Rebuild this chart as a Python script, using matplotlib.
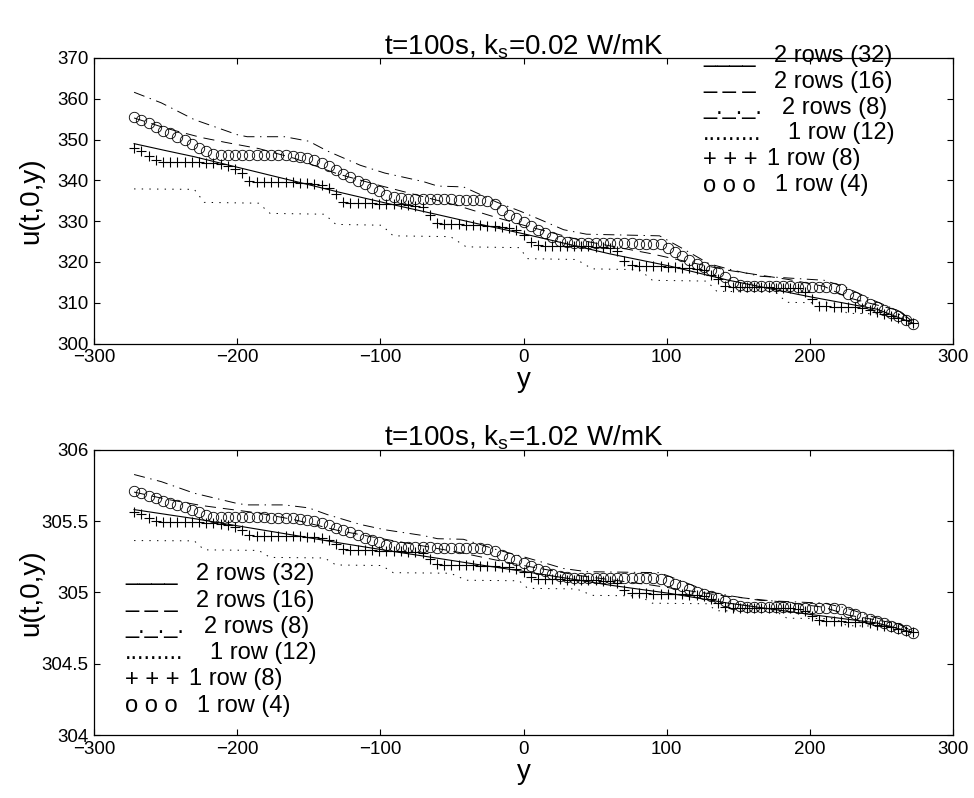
import numpy as np
import matplotlib
matplotlib.use("Agg")
import matplotlib.pyplot as plt
from matplotlib.ticker import FuncFormatter

plt.rcParams.update({
    "font.family": "Liberation Sans",
    "lines.scale_dashes": False,
    "axes.linewidth": 0.9,
})

# -----------------------------------------------------------------------
# DATA
# -----------------------------------------------------------------------
# marker series share one y-grid
y_grid = np.linspace(-272, 272, 109)

circ_top = [
    355.5, 354.8, 354.0, 353.1, 352.2, 351.5, 350.6, 349.8, 348.9, 348.0,
    347.1, 346.5, 346.3, 346.3, 346.2, 346.2, 346.2, 346.2, 346.2, 346.1,
    346.1, 346.1, 346.0, 345.8, 345.4, 344.9, 344.2, 343.5, 342.5, 341.6,
    340.9, 339.9, 339.0, 338.2, 337.4, 336.4, 335.8, 335.6, 335.5, 335.5,
    335.5, 335.5, 335.4, 335.4, 335.4, 335.3, 335.3, 335.2, 335.2, 335.0,
    334.1, 332.7, 331.6, 330.8, 329.9, 328.9, 327.8, 327.0, 326.0, 325.2,
    324.8, 324.7, 324.7, 324.7, 324.7, 324.6, 324.6, 324.6, 324.6, 324.6,
    324.5, 324.5, 324.5, 324.3, 323.3, 322.5, 321.5, 320.5, 319.6, 318.8,
    318.1, 317.5, 316.4, 315.2, 314.3, 314.1, 314.1, 314.0, 314.0, 314.0,
    314.0, 314.0, 313.9, 313.9, 313.9, 313.9, 313.8, 313.6, 313.3, 312.2,
    311.5, 310.6, 309.7, 309.0, 308.3, 307.4, 306.7, 305.8, 304.7,
]
plus_top = [
    348.0, 347.3, 346.0, 345.0, 344.6, 344.5, 344.5, 344.5, 344.4, 344.4,
    344.3, 344.2, 344.0, 343.6, 342.8, 341.7, 339.8, 339.6, 339.6, 339.6,
    339.5, 339.5, 339.5, 339.4, 339.3, 339.1, 338.8, 338.2, 336.6, 334.8,
    334.5, 334.5, 334.4, 334.4, 334.3, 334.2, 334.2, 334.1, 334.0, 333.8,
    333.4, 331.4, 329.6, 329.2, 329.2, 329.2, 329.1, 329.1, 329.0, 328.9,
    328.8, 328.6, 328.3, 327.8, 326.6, 324.9, 324.1, 324.0, 324.0, 324.0,
    323.9, 323.9, 323.9, 323.8, 323.7, 323.6, 323.4, 322.6, 320.2, 319.2,
    319.0, 319.0, 318.9, 318.9, 318.8, 318.7, 318.6, 318.4, 318.3, 317.9,
    316.8, 315.7, 314.0, 313.9, 313.9, 313.9, 313.8, 313.8, 313.8, 313.7,
    313.7, 313.6, 313.5, 312.6, 311.0, 309.3, 309.1, 309.0, 309.0, 308.9,
    308.9, 308.7, 308.3, 307.8, 307.3, 306.8, 306.2, 305.7, 305.1,
]
circ_bot = [
    305.707, 305.693, 305.678, 305.660, 305.642, 305.629, 305.611, 305.595, 305.578, 305.560,
    305.543, 305.531, 305.527, 305.527, 305.525, 305.525, 305.525, 305.525, 305.525, 305.523,
    305.523, 305.523, 305.521, 305.517, 305.509, 305.500, 305.486, 305.472, 305.453, 305.435,
    305.421, 305.402, 305.384, 305.368, 305.353, 305.333, 305.322, 305.318, 305.316, 305.316,
    305.316, 305.316, 305.314, 305.314, 305.314, 305.312, 305.312, 305.310, 305.310, 305.306,
    305.288, 305.261, 305.239, 305.224, 305.206, 305.187, 305.165, 305.149, 305.130, 305.114,
    305.106, 305.104, 305.104, 305.104, 305.104, 305.102, 305.102, 305.102, 305.102, 305.102,
    305.100, 305.100, 305.100, 305.096, 305.077, 305.061, 305.042, 305.022, 305.004, 304.989,
    304.975, 304.963, 304.942, 304.918, 304.901, 304.897, 304.897, 304.895, 304.895, 304.895,
    304.895, 304.895, 304.893, 304.893, 304.893, 304.893, 304.891, 304.887, 304.881, 304.860,
    304.846, 304.828, 304.811, 304.797, 304.783, 304.766, 304.752, 304.734, 304.713,
]
plus_bot = [
    305.560, 305.547, 305.521, 305.502, 305.494, 305.492, 305.492, 305.492, 305.490, 305.490,
    305.488, 305.486, 305.482, 305.474, 305.459, 305.437, 305.400, 305.396, 305.396, 305.396,
    305.394, 305.394, 305.394, 305.392, 305.390, 305.386, 305.380, 305.369, 305.337, 305.302,
    305.296, 305.296, 305.294, 305.294, 305.292, 305.290, 305.290, 305.288, 305.286, 305.282,
    305.275, 305.235, 305.200, 305.192, 305.192, 305.192, 305.190, 305.190, 305.188, 305.187,
    305.185, 305.181, 305.175, 305.165, 305.141, 305.108, 305.093, 305.091, 305.091, 305.091,
    305.089, 305.089, 305.089, 305.087, 305.085, 305.083, 305.079, 305.063, 305.016, 304.997,
    304.993, 304.993, 304.991, 304.991, 304.989, 304.987, 304.985, 304.981, 304.979, 304.971,
    304.950, 304.928, 304.895, 304.893, 304.893, 304.893, 304.891, 304.891, 304.891, 304.889,
    304.889, 304.887, 304.885, 304.868, 304.836, 304.803, 304.799, 304.797, 304.797, 304.795,
    304.795, 304.791, 304.783, 304.774, 304.764, 304.754, 304.742, 304.732, 304.721,
]

# line series: breakpoints
solid_x = [-272, -250, -230, -202, -160, -130, -97, -60, -30, 0, 27, 60, 102, 142, 198, 247, 272]
solid_top = [349.0, 347.3, 345.8, 343.4, 339.8, 337.2, 334.5, 331.6, 329.2, 326.9,
             324.7, 322.0, 319.0, 315.6, 311.6, 308.4, 305.0]
solid_bot = [305.580, 305.547, 305.517, 305.470, 305.400, 305.349, 305.296, 305.239, 305.192,
             305.147, 305.104, 305.051, 304.993, 304.926, 304.848, 304.785, 304.719]

dash_x = [-272, -250, -225, -208, -185, -160, -130, -100, -70, -45, -20, 0,
          40, 88, 115, 142, 185, 210, 227, 263, 272]
dash_top = [355.3, 352.8, 350.5, 349.3, 347.8, 345.4, 341.6, 338.7, 336.0, 333.7, 331.0,
            329.0, 325.3, 322.1, 320.0, 318.0, 315.7, 314.0, 311.2, 308.0, 305.2]
dash_bot = [305.703, 305.654, 305.609, 305.586, 305.556, 305.509, 305.435, 305.378, 305.325,
            305.280, 305.228, 305.188, 305.116, 305.053, 305.012, 304.973, 304.928, 304.895,
            304.840, 304.778, 304.723]

dd_x = [-272, -253, -230, -200, -193, -167, -150, -137, -114, -97, -70, -60, -42, -30,
        -19, -2, 11.5, 28, 44, 95, 110, 130, 146, 165, 210, 225, 245, 262, 272]
dd_top = [361.6, 359.0, 354.9, 351.2, 350.7, 350.7, 349.6, 347.2, 343.7, 341.8, 339.7,
          338.6, 338.4, 336.5, 334.7, 332.4, 330.4, 327.9, 326.8, 326.4, 323.5, 319.5,
          318.0, 316.5, 315.5, 313.8, 310.5, 308.0, 305.3]
dd_bot = [305.826, 305.776, 305.695, 305.623, 305.613, 305.613, 305.592, 305.545, 305.476,
          305.439, 305.398, 305.376, 305.372, 305.335, 305.300, 305.255, 305.216, 305.167,
          305.145, 305.138, 305.081, 305.003, 304.973, 304.944, 304.924, 304.891, 304.826,
          304.778, 304.725]

dot_x = [-272, -230, -223, -185, -177, -139, -131, -99, -91, -51, -40, -3, 3, 37,
         48, 81, 90, 128, 135, 176, 184, 218, 226, 262, 272]
dot_top = [337.9, 337.8, 334.6, 334.4, 331.9, 331.7, 329.2, 329.0, 326.4, 326.2, 323.7,
           323.5, 320.8, 320.6, 318.3, 318.1, 315.5, 315.3, 312.8, 312.6, 310.1, 309.9,
           307.4, 307.2, 305.6]
dot_bot = [305.363, 305.361, 305.298, 305.294, 305.245, 305.241, 305.192, 305.188, 305.138,
           305.134, 305.085, 305.081, 305.028, 305.024, 304.979, 304.975, 304.924, 304.920,
           304.871, 304.868, 304.819, 304.815, 304.766, 304.762, 304.731]

legend_keys = ["____", "_ _ _", "_._._.", ".........", "+ + +", "o o o"]
legend_labels = ["2 rows (32)", "2 rows (16)", "2 rows (8)", "1 row (12)", "1 row (8)", "1 row (4)"]

titles = ["t=100s, k$_\\mathregular{s}$=0.02 W/mK", "t=100s, k$_\\mathregular{s}$=1.02 W/mK"]

# -----------------------------------------------------------------------
# FIGURE
# -----------------------------------------------------------------------
W, H = 974, 798
fig = plt.figure(figsize=(W / 100, H / 100), dpi=100)
ax_top = fig.add_axes([94 / W, 1 - 343.5 / H, 859 / W, 285.5 / H])
ax_bot = fig.add_axes([94 / W, 1 - 735 / H, 859 / W, 285.3 / H])


def draw(ax, solid, dash, dd, dot, circ, plus):
    ax.plot(solid_x, solid, color="k", lw=0.8)
    ax.plot(dash_x, dash, color="k", lw=0.7, dashes=(8, 5))
    ax.plot(dd_x, dd, color="k", lw=0.7, dashes=(8, 4, 1, 4))
    ax.plot(dot_x, dot, color="k", lw=0.7, dashes=(1, 4.5))
    ax.plot(y_grid, plus, ls="none", marker="+", ms=7, mew=0.8, color="k")
    ax.plot(y_grid, circ, ls="none", marker="o", ms=7.5, mew=0.6, mfc="none", color="k")
    ax.set_xlim(-300, 300)
    ax.set_xticks(np.arange(-300, 301, 100))
    ax.tick_params(direction="in", top=True, right=True, length=4, width=0.8,
                   labelsize=13.5, pad=4, colors="k")
    ax.yaxis.set_major_formatter(FuncFormatter(lambda v, p: "%g" % v))
    ax.set_xlabel("y", fontsize=20, labelpad=1)
    ax.set_ylabel("u(t,0,y)", fontsize=20)
    ax.yaxis.set_label_coords(-0.058, 0.5)


draw(ax_top, solid_top, dash_top, dd_top, dot_top, circ_top, plus_top)
ax_top.set_ylim(300, 370)
ax_top.set_yticks(np.arange(300, 371, 10))
ax_top.set_title(titles[0], fontsize=20, pad=3)

draw(ax_bot, solid_bot, dash_bot, dd_bot, dot_bot, circ_bot, plus_bot)
ax_bot.set_ylim(304, 306)
ax_bot.set_yticks(np.arange(304, 306.01, 0.5))
ax_bot.set_title(titles[1], fontsize=20, pad=3)

# pseudo-legends built from text, as in the original
key_offsets = [71, 71, 79, 85, 64, 72]
legend_sets = [
    (703, [56, 82, 108, 133.5, 159.5, 185.5]),
    (125, [574.3, 600.6, 626.9, 653.2, 679.5, 705.8]),
]
for x0, rows in legend_sets:
    for key, label, dx, yy in zip(legend_keys, legend_labels, key_offsets, rows):
        fig.text(x0 / W, 1 - yy / H, key, fontsize=17, va="center", ha="left")
        fig.text((x0 + dx) / W, 1 - yy / H, label, fontsize=17, va="center", ha="left")

fig.savefig("out.png", dpi=100, facecolor="white")
